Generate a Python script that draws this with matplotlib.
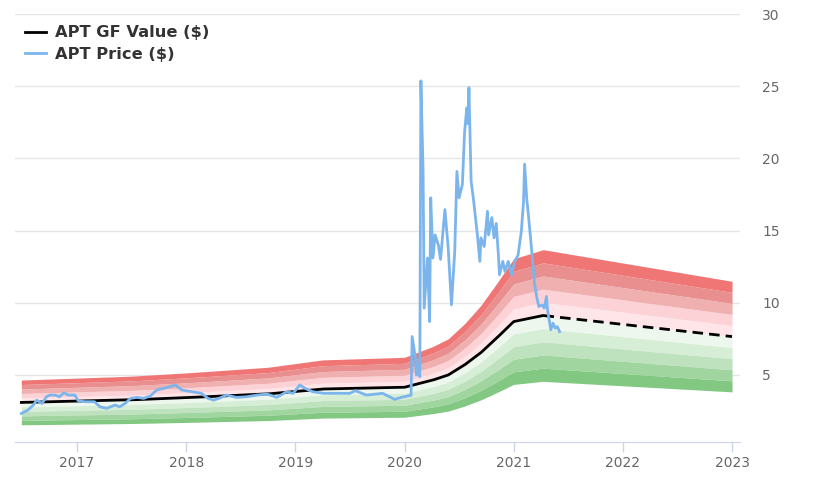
import matplotlib
matplotlib.use("Agg")
import matplotlib.pyplot as plt
from matplotlib.lines import Line2D
import numpy as np

# GF Value knots (decimal year, $)
gf_years = [2016.49, 2017.50, 2018.00, 2018.75, 2019.25, 2020.00, 2020.26,
            2020.40, 2020.55, 2020.70, 2020.85, 2021.00, 2021.27, 2023.00]
gf_values = [3.10, 3.28, 3.43, 3.69, 4.03, 4.15, 4.65,
             5.00, 5.70, 6.55, 7.60, 8.70, 9.12, 7.66]
gf_split_year = 2021.27  # solid before, dashed (estimate) after

# APT price (decimal year, $)
price_years = [
    2016.49, 2016.55, 2016.60, 2016.63, 2016.68, 2016.72, 2016.75, 2016.80, 2016.84, 2016.88,
    2016.92, 2016.98, 2017.01, 2017.07, 2017.16, 2017.21, 2017.27, 2017.35, 2017.39, 2017.44,
    2017.49, 2017.55, 2017.61, 2017.67, 2017.73, 2017.79, 2017.85, 2017.90, 2017.96, 2018.05,
    2018.14, 2018.20, 2018.25, 2018.30, 2018.37, 2018.46, 2018.55, 2018.65, 2018.74, 2018.83,
    2018.92, 2018.98, 2019.04, 2019.09, 2019.16, 2019.26, 2019.35, 2019.50, 2019.55, 2019.65,
    2019.80, 2019.91, 2019.97, 2020.03, 2020.06, 2020.07, 2020.10, 2020.11, 2020.12, 2020.14,
    2020.15, 2020.17, 2020.18, 2020.21, 2020.23, 2020.24, 2020.26, 2020.28, 2020.31, 2020.33,
    2020.37, 2020.40, 2020.43, 2020.46, 2020.48, 2020.50, 2020.53, 2020.55, 2020.57, 2020.58,
    2020.59, 2020.61, 2020.63, 2020.65, 2020.67, 2020.69, 2020.70, 2020.73, 2020.76, 2020.77,
    2020.80, 2020.82, 2020.84, 2020.86, 2020.87, 2020.90, 2020.92, 2020.95, 2020.98, 2021.01,
    2021.04, 2021.07, 2021.09, 2021.10, 2021.12, 2021.13, 2021.15, 2021.17, 2021.19, 2021.21,
    2021.23, 2021.26, 2021.28, 2021.30, 2021.31, 2021.34, 2021.36, 2021.38, 2021.40, 2021.42,
]
price_values = [
    2.34, 2.57, 2.92, 3.26, 3.03, 3.49, 3.61, 3.61, 3.49, 3.77,
    3.61, 3.61, 3.22, 3.15, 3.15, 2.80, 2.69, 2.92, 2.80, 3.03,
    3.38, 3.45, 3.38, 3.54, 3.96, 4.07, 4.19, 4.31, 3.96, 3.84,
    3.73, 3.38, 3.26, 3.38, 3.61, 3.45, 3.49, 3.61, 3.68, 3.45,
    3.84, 3.73, 4.31, 4.07, 3.84, 3.73, 3.73, 3.73, 3.91, 3.61,
    3.73, 3.31, 3.45, 3.55, 3.60, 7.66, 6.16, 5.00, 5.69, 4.88,
    25.37, 19.10, 9.63, 13.10, 8.70, 17.27, 13.10, 14.70, 14.00, 13.00,
    16.46, 13.80, 9.86, 13.56, 19.10, 17.27, 18.20, 21.80, 23.50, 22.40,
    24.90, 18.40, 17.27, 15.90, 14.50, 12.87, 14.50, 13.90, 16.34, 14.70,
    15.90, 14.50, 15.50, 13.30, 11.94, 12.87, 12.17, 12.87, 11.94, 12.87,
    13.30, 14.95, 17.00, 19.60, 17.15, 16.46, 14.84, 13.20, 11.37, 10.44,
    9.74, 9.86, 9.63, 10.44, 9.51, 8.13, 8.59, 8.24, 8.35, 8.00,
]

band_step = 0.1   # each band is 10% of GF Value
red_colors = ["#ffe5e8", "#fdd2d6", "#f1b0b0", "#e98f8f", "#f07575"]    # inner -> outer
green_colors = ["#edf7ed", "#d6edd6", "#bde2bd", "#a0d5a0", "#82c882"]  # inner -> outer

x_ticks = [2017, 2018, 2019, 2020, 2021, 2022, 2023]
y_ticks = [5, 10, 15, 20, 25, 30]

fig = plt.figure(figsize=(8.2, 4.92), dpi=100)
ax = fig.add_axes([15 / 820, 50 / 492, 725 / 820, 428 / 492])

xs = np.linspace(gf_years[0], gf_years[-1], 800)
gf = np.interp(xs, gf_years, gf_values)

for k in range(5):
    ax.fill_between(xs, gf * (1 + band_step * k), gf * (1 + band_step * (k + 1)),
                    color=red_colors[k], lw=0, zorder=1)
    ax.fill_between(xs, gf * (1 - band_step * (k + 1)), gf * (1 - band_step * k),
                    color=green_colors[k], lw=0, zorder=1)

solid = xs <= gf_split_year
ax.plot(xs[solid], gf[solid], color="black", lw=2, zorder=3)
ax.plot(xs[xs >= gf_split_year - 0.002], gf[xs >= gf_split_year - 0.002],
        color="black", lw=2, ls=(0, (3.8, 2.2)), zorder=3)

ax.plot(price_years, price_values, color="#7cb5ec", lw=2, zorder=4,
        solid_joinstyle="round")

ax.set_xlim(2016.432, 2023.073)
ax.set_ylim(0.36, 30)
ax.set_xticks(x_ticks)
ax.set_xticklabels([str(t) for t in x_ticks])
ax.set_yticks(y_ticks)
ax.yaxis.tick_right()
ax.grid(axis="y", color="#e6e6e6", lw=1, zorder=0)
ax.set_axisbelow(True)
for s in ["top", "left", "right"]:
    ax.spines[s].set_visible(False)
ax.spines["bottom"].set_color("#ccd6eb")
ax.tick_params(axis="x", colors="#ccd6eb", length=7, width=1, direction="out",
               labelcolor="#666666", labelsize=10, pad=3)
ax.tick_params(axis="y", length=0, labelcolor="#666666", labelsize=10, pad=16)

handles = [Line2D([], [], color="black", lw=2), Line2D([], [], color="#7cb5ec", lw=2)]
leg = ax.legend(handles, ["APT GF Value ($)", "APT Price ($)"], loc="upper left",
                bbox_to_anchor=(-0.006, 1.008), frameon=False, handlelength=1.3,
                handletextpad=0.55, labelspacing=0.42,
                prop={"weight": "bold", "size": 11.7})
for t in leg.get_texts():
    t.set_color("#333333")

fig.savefig("out.png", dpi=100)
